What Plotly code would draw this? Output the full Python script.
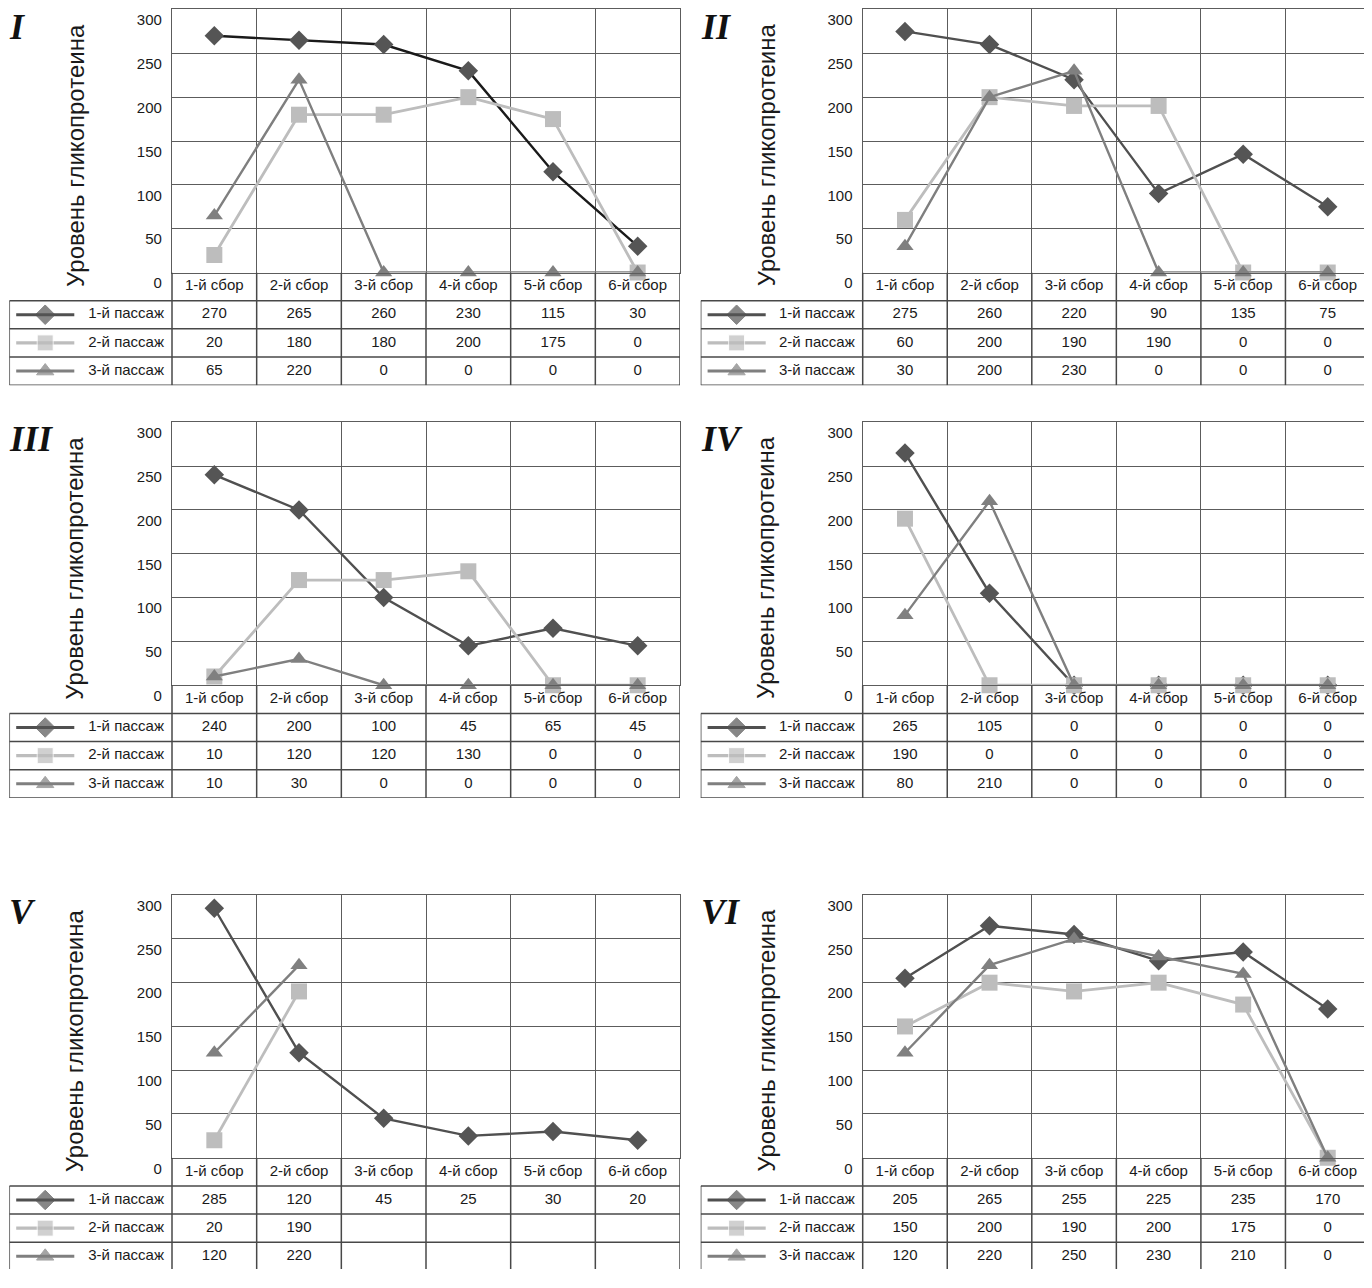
import plotly.graph_objects as go

# page has an 8px body margin: figure is placed at (8, 8) in the 1372x1288 window
OFF = 8
W, H = 1372 - OFF, 1288 - OFF

# ---------------- data ----------------
categories = ["1-й сбор", "2-й сбор", "3-й сбор", "4-й сбор", "5-й сбор", "6-й сбор"]
series_names = ["1-й пассаж", "2-й пассаж", "3-й пассаж"]
panel_labels = ["I", "II", "III", "IV", "V", "VI"]
y_ticks = [0, 50, 100, 150, 200, 250, 300]
y_title = "Уровень гликопротеина"

p1_s1 = [270, 265, 260, 230, 115, 30]
p1_s2 = [20, 180, 180, 200, 175, 0]
p1_s3 = [65, 220, 0, 0, 0, 0]

p2_s1 = [275, 260, 220, 90, 135, 75]
p2_s2 = [60, 200, 190, 190, 0, 0]
p2_s3 = [30, 200, 230, 0, 0, 0]

p3_s1 = [240, 200, 100, 45, 65, 45]
p3_s2 = [10, 120, 120, 130, 0, 0]
p3_s3 = [10, 30, 0, 0, 0, 0]

p4_s1 = [265, 105, 0, 0, 0, 0]
p4_s2 = [190, 0, 0, 0, 0, 0]
p4_s3 = [80, 210, 0, 0, 0, 0]

p5_s1 = [285, 120, 45, 25, 30, 20]
p5_s2 = [20, 190, None, None, None, None]
p5_s3 = [120, 220, None, None, None, None]

p6_s1 = [205, 265, 255, 225, 235, 170]
p6_s2 = [150, 200, 190, 200, 175, 0]
p6_s3 = [120, 220, 250, 230, 210, 0]

panels = [
    [p1_s1, p1_s2, p1_s3],
    [p2_s1, p2_s2, p2_s3],
    [p3_s1, p3_s2, p3_s3],
    [p4_s1, p4_s2, p4_s3],
    [p5_s1, p5_s2, p5_s3],
    [p6_s1, p6_s2, p6_s3],
]

# ---------------- styling / layout geometry (window pixels) ----------------
FONT = "Liberation Sans, Arial, sans-serif"
SERIF = "Liberation Serif, Times New Roman, serif"
TXT = "#1a1a1a"
GRID = "#5c5c5c"
GRID_W = 1.3
TAB = "#484848"
TAB_W = 1.5

marker_colors = ["#555555", "#bdbdbd", "#808080"]
line_colors = ["#505050", "#bdbdbd", "#7f7f7f"]
line_widths = [2.4, 2.8, 2.4]
symbols = ["diamond", "square", "triangle-up"]
sizes = [15, 16, 15]

ROWS = [(8.5, 275.7), (427.8, 695.0), (908.2, 1175.0)]   # plot top, zero line
COLS = [(9.3, 172.0, 680.0), (700.7, 862.7, 1370.0)]      # table left, plot left, right
ROW_H = 28.6


def fx(p):
    return (p - OFF) / W


def fy(p):
    return 1 - (p - OFF) / H


fig = go.Figure()
layout = dict(
    width=W, height=H,
    margin=dict(l=0, r=0, t=0, b=0),
    paper_bgcolor="white", plot_bgcolor="white",
    showlegend=False,
    font=dict(family=FONT, size=15, color=TXT),
)
shapes = []
annotations = []

for k, data in enumerate(panels):
    r, c = divmod(k, 2)
    top, zero = ROWS[r]
    tleft, pleft, pright = COLS[c]
    colw = (pright - pleft) / 6.0
    xa_p = 2 * k + 1
    xa_t = 2 * k + 2
    sfx_p = "" if xa_p == 1 else str(xa_p)
    sfx_t = str(xa_t)

    # plot axes
    layout["xaxis" + sfx_p] = dict(
        domain=[fx(pleft), fx(pright)], range=[-0.5, 5.5],
        anchor="y" + sfx_p, tickvals=[0.5, 1.5, 2.5, 3.5, 4.5],
        showticklabels=False, ticks="", showgrid=True,
        gridcolor=GRID, gridwidth=GRID_W, zeroline=False,
        showline=True, linecolor=GRID, linewidth=GRID_W, mirror=True,
        fixedrange=True,
    )
    layout["yaxis" + sfx_p] = dict(
        domain=[fy(zero), fy(top)], range=[0, 300],
        anchor="x" + sfx_p, tickvals=y_ticks, ticks="",
        ticklabelposition="outside bottom", ticklabelstandoff=6,
        tickfont=dict(size=15, color=TXT),
        showgrid=True, gridcolor=GRID, gridwidth=GRID_W, zeroline=False,
        showline=True, linecolor=GRID, linewidth=GRID_W, mirror=True,
        fixedrange=True,
    )
    # table axes
    xl = -0.5 - (pleft - tleft) / colw
    bottom = min(zero + 4 * ROW_H, H + OFF)
    layout["xaxis" + sfx_t] = dict(
        domain=[fx(tleft), fx(pright)], range=[xl, 5.5],
        anchor="y" + sfx_t, visible=False, fixedrange=True,
    )
    layout["yaxis" + sfx_t] = dict(
        domain=[max(fy(bottom), 0), fy(zero)],
        range=[4 - (bottom - zero) / ROW_H, 4],
        anchor="x" + sfx_t, visible=False, fixedrange=True,
    )

    # series lines
    for i, vals in enumerate(data):
        lc = "#1a1a1a" if (k == 0 and i == 0) else line_colors[i]
        fig.add_trace(go.Scatter(
            x=list(range(len(categories))), y=vals,
            mode="lines+markers", cliponaxis=False,
            line=dict(color=lc, width=line_widths[i]),
            marker=dict(symbol=symbols[i], size=sizes[i], color=marker_colors[i]),
            xaxis="x" + sfx_p, yaxis="y" + sfx_p, hoverinfo="skip",
        ))

    # table: header text
    fig.add_trace(go.Scatter(
        x=list(range(len(categories))), y=[3.5] * len(categories),
        mode="text", text=categories, textposition="middle center",
        textfont=dict(family=FONT, size=15, color=TXT), cliponaxis=False,
        xaxis="x" + sfx_t, yaxis="y" + sfx_t, hoverinfo="skip",
    ))
    # table: values and legend
    for i, vals in enumerate(data):
        yrow = 2.5 - i
        fig.add_trace(go.Scatter(
            x=list(range(len(categories))), y=[yrow] * len(categories),
            mode="text", text=["" if v is None else str(v) for v in vals],
            textposition="middle center",
            textfont=dict(family=FONT, size=15, color=TXT), cliponaxis=False,
            xaxis="x" + sfx_t, yaxis="y" + sfx_t, hoverinfo="skip",
        ))
        lx0 = xl + 6.9 / colw
        lx1 = xl + 65.0 / colw
        lxm = xl + 35.9 / colw
        fig.add_trace(go.Scatter(
            x=[lx0, lxm, lx1], y=[yrow] * 3, mode="lines+markers",
            line=dict(color=line_colors[i], width=line_widths[i] + 0.5),
            marker=dict(symbol=symbols[i], size=[0, sizes[i], 0],
                        color=marker_colors[i]),
            cliponaxis=False,
            xaxis="x" + sfx_t, yaxis="y" + sfx_t, hoverinfo="skip",
        ))
        fig.add_trace(go.Scatter(
            x=[-0.5 - 8.0 / colw], y=[yrow], mode="text",
            text=[series_names[i]], textposition="middle left",
            textfont=dict(family=FONT, size=15, color=TXT), cliponaxis=False,
            xaxis="x" + sfx_t, yaxis="y" + sfx_t, hoverinfo="skip",
        ))

    # table grid lines
    ln = dict(color=TAB, width=TAB_W)
    for yy in [0, 1, 2, 3]:
        shapes.append(dict(type="line", xref="x" + sfx_t, yref="y" + sfx_t,
                           x0=xl, x1=5.5, y0=yy, y1=yy, line=ln, layer="above"))
    shapes.append(dict(type="line", xref="x" + sfx_t, yref="y" + sfx_t,
                       x0=xl, x1=xl, y0=0, y1=3, line=ln, layer="above"))
    for j in range(7):
        xv = -0.5 + j
        shapes.append(dict(type="line", xref="x" + sfx_t, yref="y" + sfx_t,
                           x0=xv, x1=xv, y0=0, y1=4, line=ln, layer="above"))

    # panel label
    annotations.append(dict(
        text="<b><i>" + panel_labels[k] + "</i></b>", xref="paper", yref="paper",
        x=fx(tleft - 2), y=fy(top - 5), xanchor="left", yanchor="top",
        showarrow=False, font=dict(family=SERIF, size=36, color="#111111"),
    ))
    # y title
    annotations.append(dict(
        text=y_title, xref="paper", yref="paper",
        x=fx(tleft + 65.5), y=fy((top + zero + ROW_H) / 2),
        xanchor="center", yanchor="middle", textangle=-90, showarrow=False,
        font=dict(family=FONT, size=24, color=TXT),
    ))

layout["shapes"] = shapes
layout["annotations"] = annotations
fig.update_layout(**layout)
fig.write_html("out.html")
